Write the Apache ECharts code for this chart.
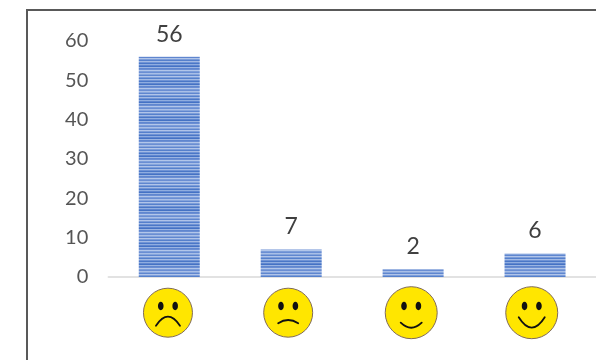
<!DOCTYPE html>
<html><head><meta charset="utf-8">
<style>html,body{margin:0;padding:0;background:#fff}#c{width:596px;height:360px}</style>
<script src="https://cdn.jsdelivr.net/npm/echarts@6/dist/echarts.min.js"></script>
</head><body><div id="c"></div>
<script>
const categories = ['very unhappy','unhappy','happy','very happy'];
const values = [56,7,2,6];
const yTicks = [0,10,20,30,40,50,60];

// drawing style of each face: offset from bar centre, radius, mouth end y, mouth extreme y, mouth half width
const faceDx = [-1.3,-3,-1.9,-3.3];
const faceR = [24.5,24.5,26,26];
const mouthEnd = [13,10.6,10,4.6];
const mouthPeak = [4,7.3,15,15];
const mouthHalf = [12,10,10.5,13];

const stripeRows = ['#6a8ed3','#a9bfe7','#86a5dc','#5f86cf','#b0c4e9','#7c9dd9','#5580cc','#a3bae4','#6f93d5',
  '#4a77c7','#8fadE0','#5f86cf','#4472c4','#9ab4e2','#5f86cf','#6a8ed3','#b2c6ea','#7c9dd9'];
const p = document.createElement('canvas');
p.width = 4; p.height = stripeRows.length;
const g = p.getContext('2d');
stripeRows.forEach((c,i)=>{g.fillStyle=c;g.fillRect(0,i,4,1);});

const chart = echarts.init(document.getElementById('c'),null,{renderer:'canvas'});
const font = 'Lato, sans-serif';
chart.setOption({
  animation:false,
  grid:{left:108.3,right:-2.3,top:41,height:236,containLabel:false},
  graphic:[{type:'polyline',silent:true,shape:{points:[[27,360],[27,10],[596,10]]},style:{fill:null,stroke:'#595959',lineWidth:2}}],
  xAxis:{type:'category',data:categories,axisTick:{show:false},axisLabel:{show:false},
    axisLine:{lineStyle:{color:'#d9d9d9',width:1.5}}},
  yAxis:{type:'value',min:yTicks[0],max:yTicks[yTicks.length-1],interval:10,splitLine:{show:false},axisLine:{show:false},axisTick:{show:false},
    axisLabel:{color:'#555555',fontSize:20,fontFamily:font,margin:20}},
  series:[{type:'bar',data:values,barWidth:61,
      itemStyle:{color:{image:p,repeat:'repeat'}},
      label:{show:true,position:'top',distance:11,color:'#404040',fontSize:23,fontFamily:font}},
    {type:'custom',clip:false,silent:true,data:categories.map((c,i)=>[i]),
      renderItem(params,api){
        const i = api.value(0);
        const c = api.coord([i,0]);
        const x=c[0]+faceDx[i], y=312.7, r=faceR[i];
        const yEnd=y+mouthEnd[i], cp=y+mouthEnd[i]+2*(mouthPeak[i]-mouthEnd[i]), w=mouthHalf[i];
        return {type:'group',children:[
          {type:'circle',shape:{cx:x,cy:y,r},style:{fill:'#ffe600',stroke:'#7f6a5a',lineWidth:1}},
          {type:'ellipse',shape:{cx:x-7.2,cy:y-6.7,rx:2.8,ry:4.2},style:{fill:'#111'}},
          {type:'ellipse',shape:{cx:x+7.2,cy:y-6.7,rx:2.8,ry:4.2},style:{fill:'#111'}},
          {type:'bezierCurve',shape:{x1:x-w,y1:yEnd,x2:x+w,y2:yEnd,cpx1:x,cpy1:cp},
            style:{fill:null,stroke:'#111',lineWidth:1.8,lineCap:'round'}}
        ]};
      }}]
});
</script></body></html>
